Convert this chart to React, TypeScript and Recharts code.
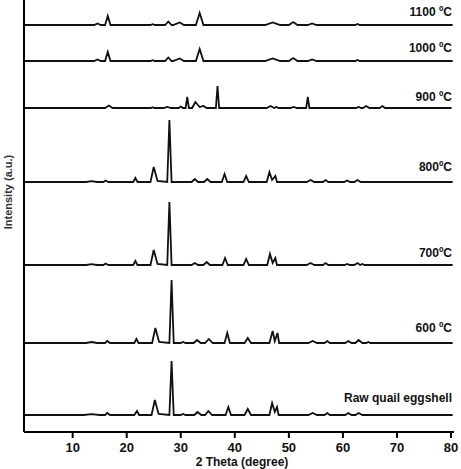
import { LineChart, Line, XAxis, YAxis } from "recharts";

// 2θ ticks
const X_TICKS = [10, 20, 30, 40, 50, 60, 70, 80];

// trace labels, bottom to top
const LABELS = ["Raw quail eggshell", "600 ºC", "700ºC", "800ºC", "900 ºC", "1000 ºC", "1100 ºC"];

// vertical offset of each trace baseline (a.u.)
const OFFSETS = [17, 89, 167, 250, 324, 371, 407];

// [2θ, intensity]
const RAW: number[][] = [
  [1, 0], [12, 0], [13.5, 0.8], [15, 0], [16, 0], [16.4, 2], [16.9, 0], [21.4, 0], [21.9, 4], [22.3, 0],
  [24.6, 0], [25.2, 15], [25.9, 1], [27.9, 0], [28.3, 54], [28.7, 0], [30, 0], [30.4, 1], [30.9, 0],
  [32.5, 0], [33.1, 3], [33.8, 0], [34.5, 0], [35.1, 4], [35.8, 0], [38.3, 0], [38.8, 8], [39.3, 0],
  [41.8, 0], [42.4, 6], [43, 0], [46.4, 0], [46.9, 12], [47.4, 3], [47.8, 8], [48.1, 0], [53.6, 0],
  [54.4, 2], [55.2, 0], [56.6, 0], [57.1, 2], [57.6, 0], [60.4, 0], [61, 2], [61.6, 0], [62.3, 0],
  [62.9, 2], [63.6, 0], [80.3, 0],
];

const T600: number[][] = [
  [1, 0], [12.5, 0], [13.5, 1], [14.5, 0], [16, 0], [16.4, 2], [16.9, 0], [21.4, 0], [21.8, 4], [22.2, 0],
  [24.7, 0], [25.3, 15], [26, 1], [27.9, 0], [28.3, 63], [28.7, 0], [30, 0], [30.4, 1], [30.9, 0],
  [32.4, 0], [33, 3], [33.7, 0], [34.5, 0], [35.2, 4], [35.9, 0], [38.1, 0], [38.6, 10], [39.1, 0],
  [41.8, 0], [42.4, 5], [43, 0], [46.4, 0], [47, 12], [47.4, 2], [47.9, 10], [48.2, 0], [53.6, 0],
  [54.4, 2], [55.2, 0], [56.6, 0], [57.1, 2], [57.6, 0], [60.4, 0], [61, 2], [61.6, 0], [62.3, 0],
  [62.9, 3], [63.6, 0], [64.3, 0], [64.7, 1], [65.1, 0], [80.3, 0],
];

const T700: number[][] = [
  [1, 0], [12.5, 0], [13.5, 0.8], [14.5, 0], [15.7, 0], [16.1, 1.5], [16.6, 0], [21.2, 0], [21.6, 4], [22, 0],
  [24.4, 0], [25, 15], [25.7, 1], [27.5, 0], [27.9, 63], [28.3, 0], [32, 0], [32.6, 2], [33.2, 0],
  [34.2, 0], [34.8, 3], [35.4, 0], [37.7, 0], [38.2, 7], [38.7, 0], [41.6, 0], [42.1, 6], [42.6, 0],
  [46, 0], [46.5, 11], [47, 2], [47.5, 7], [47.8, 0], [53.3, 0], [54, 2], [54.7, 0], [56.3, 0],
  [56.8, 2], [57.3, 0], [60.3, 0], [60.8, 1], [61.3, 0], [62.1, 0], [62.7, 2], [63.2, 0], [63.6, 1],
  [64, 0], [80.3, 0],
];

const T800: number[][] = [
  [1, 0], [12.5, 0], [13.5, 0.8], [14.5, 0], [15.7, 0], [16.1, 1.5], [16.6, 0], [21.2, 0], [21.6, 4], [22, 0],
  [24.4, 0], [25, 15], [25.7, 1], [27.5, 0], [27.9, 62], [28.3, 0], [32, 0], [32.6, 3], [33.2, 0],
  [34.3, 0], [34.9, 3], [35.5, 0], [37.6, 0], [38.1, 8], [38.6, 0], [41.6, 0], [42.1, 6], [42.6, 0],
  [45.9, 0], [46.4, 10], [46.9, 2], [47.5, 6], [47.8, 0], [53.3, 0], [54, 2], [54.7, 0], [56.3, 0],
  [56.8, 2], [57.3, 0], [60.2, 0], [60.8, 1.5], [61.3, 0], [62.1, 0], [62.7, 2], [63.3, 0], [80.3, 0],
];

const T900: number[][] = [
  [1, 0], [16, 0], [16.7, 2.5], [17.4, 0], [24.5, 0], [24.8, 0.8], [25.1, 0], [26.8, 0], [27.5, 1],
  [28.2, 0], [29.6, 0], [30, 1.5], [30.4, 0], [30.9, 0], [31.2, 11], [31.5, 0], [32.1, 0], [32.7, 6],
  [33.5, 1], [34.2, 2], [34.8, 0], [36.5, 0], [36.8, 22], [37.1, 0], [45.9, 0], [46.6, 2], [47.3, 0],
  [47.7, 1], [48.1, 0], [50.3, 0], [50.9, 1], [51.5, 0], [53.2, 0], [53.5, 11], [53.8, 0], [62.4, 0],
  [62.9, 1], [63.4, 0], [63.7, 0], [64.3, 2], [64.9, 0], [66.8, 0], [67.3, 2], [67.8, 0], [80.1, 0],
];

const T1000: number[][] = [
  [1, 0], [14, 0], [14.6, 1.5], [15.2, 0], [16, 0], [16.5, 9], [17, 0], [24.4, 0], [24.8, 0.8], [25.2, 0],
  [27.1, 0], [27.7, 3.5], [28.3, 0], [28.6, 0], [29.8, 2.5], [30.6, 0], [32.8, 0], [33.5, 12], [34.2, 0],
  [45.6, 0], [47, 2.5], [48.4, 0], [50, 0], [50.8, 3], [51.6, 0], [53.5, 0], [54.3, 1.5], [55.1, 0],
  [62.3, 0], [62.7, 1], [63.1, 0], [80.3, 0],
];

const T1100: number[][] = [
  [1, 0], [14, 0], [14.6, 1.5], [15.2, 0], [16, 0], [16.5, 9], [17, 0], [24.4, 0], [24.8, 0.8], [25.2, 0],
  [27.1, 0], [27.7, 3.5], [28.3, 0], [28.6, 0], [29.8, 2.5], [30.6, 0], [32.8, 0], [33.5, 12], [34.2, 0],
  [45.6, 0], [47, 2.5], [48.4, 0], [50, 0], [50.8, 3], [51.6, 0], [53.5, 0], [54.3, 1.5], [55.1, 0],
  [62.3, 0], [62.7, 1], [63.1, 0], [80.3, 0],
];

const PATTERNS = [RAW, T600, T700, T800, T900, T1000, T1100];

// label vertical centres in px (bottom to top)
const LABEL_TOPS = [398, 328, 253, 167, 97, 48, 12];

const FONT = "'Liberation Sans', Arial, sans-serif";

export default function App() {
  const series = PATTERNS.map((pts, i) =>
    pts.map(([x, y]) => ({ x, y: y + OFFSETS[i] }))
  );

  return (
    <div
      style={{
        position: "absolute",
        left: 0,
        top: 0,
        width: 461,
        height: 469,
        background: "#fff",
        overflow: "hidden",
        fontFamily: FONT,
      }}
    >
      <LineChart
        width={461}
        height={469}
        margin={{ top: 0, right: 7, bottom: 0, left: 0 }}
      >
        <XAxis
          type="number"
          dataKey="x"
          domain={[1, 80.55]}
          ticks={X_TICKS}
          allowDataOverflow
          height={37}
          tickSize={6}
          tickMargin={5}
          axisLine={{ stroke: "#000", strokeWidth: 2 }}
          tickLine={{ stroke: "#000", strokeWidth: 2 }}
          tick={{ fontSize: 13, fontWeight: 700, fill: "#111", fontFamily: FONT }}
        />
        <YAxis
          type="number"
          dataKey="y"
          domain={[0, 432]}
          allowDataOverflow
          width={24}
          tick={false}
          tickLine={false}
          axisLine={{ stroke: "#000", strokeWidth: 2 }}
        />
        {series.map((d, i) => (
          <Line
            key={LABELS[i]}
            data={d}
            dataKey="y"
            type="linear"
            stroke="#111"
            strokeWidth={1.8}
            dot={false}
            isAnimationActive={false}
          />
        ))}
      </LineChart>

      {LABELS.map((label, i) => (
        <div
          key={label}
          style={{
            position: "absolute",
            right: 9,
            top: LABEL_TOPS[i] - 7,
            fontSize: 12,
            lineHeight: "14px",
            fontWeight: 700,
            color: "#111",
            whiteSpace: "nowrap",
          }}
        >
          {label}
        </div>
      ))}

      <div
        style={{
          position: "absolute",
          left: 8 - 50,
          top: 192 - 7,
          width: 100,
          textAlign: "center",
          transform: "rotate(-90deg)",
          fontSize: 11,
          lineHeight: "14px",
          fontWeight: 700,
          color: "#333",
          whiteSpace: "nowrap",
        }}
      >
        Intensity (a.u.)
      </div>

      <div
        style={{
          position: "absolute",
          left: 242 - 60,
          top: 455,
          width: 120,
          textAlign: "center",
          fontSize: 12,
          lineHeight: "14px",
          fontWeight: 700,
          color: "#111",
          whiteSpace: "nowrap",
        }}
      >
        2 Theta (degree)
      </div>
    </div>
  );
}
